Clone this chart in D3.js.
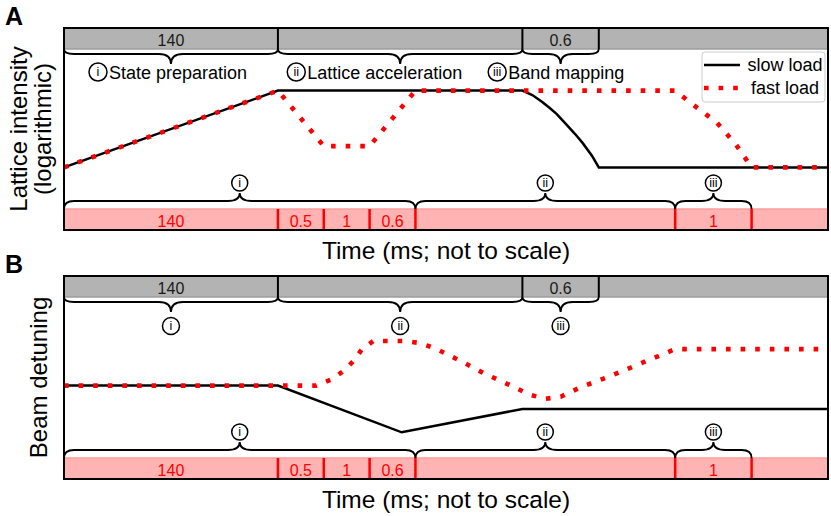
<!DOCTYPE html>
<html>
<head>
<meta charset="utf-8">
<script src="https://cdn.jsdelivr.net/npm/d3@7"></script>
<style>
body { margin: 0; background: #fff; }
svg { font-family: "Liberation Sans", Arial, sans-serif; }
</style>
</head>
<body>
<div id="chart"></div>
<script>
// time is in arbitrary units (not to scale), 0..100 across the axes
const grayEdges = [0, 28, 60, 70, 100];
const grayLabels = ["140", "", "0.6", ""];
const redEdges = [0, 28, 34, 40, 46, 80, 90, 100];
const redLabels = ["140", "0.5", "1", "0.6", "", "1", ""];
const topBraces = [[0, 28], [28, 60], [60, 70]];
const bottomBraces = [[0, 46], [46, 80], [80, 90]];
const numerals = ["i", "ii", "iii"];
const stageNames = ["State preparation", "Lattice acceleration", "Band mapping"];

// panel A - lattice intensity (log), arbitrary units 0..100
const slowAx = [0, 28, 60, 61.3, 62.6, 63.5, 64.5, 65.8, 66.9, 67.9, 69.1, 70, 100];
const slowAy = [31, 69, 69, 66.8, 63.4, 60.6, 57.4, 52, 47.5, 43, 36.8, 31, 31];
const fastAx = [0, 28, 34, 40, 46, 80, 82, 85.5, 88, 90, 100];
const fastAy = [31, 69, 41.5, 41.5, 69, 69, 63, 53, 42, 31, 31];

// panel B - beam detuning, arbitrary units 0..100
const slowBx = [0, 28, 44.2, 60, 100];
const slowBy = [46, 46, 23, 34.5, 34.5];
const fastBx = [0, 33, 35, 36.5, 38, 39, 40.5, 44.5, 46.5, 48.5, 52, 55, 58.5, 61, 63, 65, 67.5, 71, 76.5, 80, 100];
const fastBy = [46, 46, 49, 53, 58.5, 64, 68, 68, 67, 64.5, 58, 52, 46, 41.5, 39.5, 40.5, 45, 50, 58.5, 64, 64];

const seriesNames = ["slow load", "fast load"];

const width = 831, height = 516;
const stageLabelAt = [4.45, 30.4, 56.7];  // circle centres of the panel A stage labels

const svg = d3.select("#chart").append("svg")
  .attr("width", width)
  .attr("height", height);

const x = d3.scaleLinear().domain([0, 100]).range([64, 828]);

const zip = (a, b) => a.map((v, i) => [v, b[i]]);

function brace(x1, x2, y0, y1, y2) {
  const xm = (x1 + x2) / 2, r = 10, c = 12;
  return `M${x1},${y0} Q${x1},${y1} ${x1 + r},${y1} L${xm - c},${y1} Q${xm},${y1} ${xm},${y2}` +
         ` Q${xm},${y1} ${xm + c},${y1} L${x2 - r},${y1} Q${x2},${y1} ${x2},${y0}`;
}

function circledNumeral(g, cx, cy, r, t) {
  g.append("circle").attr("cx", cx).attr("cy", cy).attr("r", r)
    .attr("fill", "#fff").attr("stroke", "#000").attr("stroke-width", 1.5);
  g.append("text").attr("x", cx).attr("y", cy + 4.3).attr("text-anchor", "middle")
    .style("font-size", "12.5px").text(t);
}

function drawPanel(p) {
  const y = d3.scaleLinear().domain([0, 100]).range([p.bottom, p.top]);
  const g = svg.append("g");
  const grayH = 21, redH = 21;

  // bands
  g.append("rect").attr("x", x(0)).attr("y", p.top).attr("width", x(100) - x(0)).attr("height", grayH)
    .attr("fill", "#b3b3b3");
  g.append("line").attr("x1", x(0)).attr("x2", x(100)).attr("y1", p.top + grayH).attr("y2", p.top + grayH)
    .attr("stroke", "#9c9c9c").attr("stroke-width", 1.5);
  g.append("rect").attr("x", x(0)).attr("y", p.bottom - redH).attr("width", x(100) - x(0)).attr("height", redH)
    .attr("fill", "#ffb3b3");
  g.append("line").attr("x1", x(0)).attr("x2", x(100)).attr("y1", p.bottom - redH).attr("y2", p.bottom - redH)
    .attr("stroke", "#ff9c9c").attr("stroke-width", 1.5);

  grayLabels.forEach((t, i) => {
    if (!t) return;
    g.append("text").attr("x", x((grayEdges[i] + grayEdges[i + 1]) / 2)).attr("y", p.top + 18)
      .attr("text-anchor", "middle").attr("fill", "#1a1a1a").style("font-size", "16px").text(t);
  });
  redLabels.forEach((t, i) => {
    if (!t) return;
    g.append("text").attr("x", x((redEdges[i] + redEdges[i + 1]) / 2)).attr("y", p.bottom - 3)
      .attr("text-anchor", "middle").attr("fill", "red").style("font-size", "16px").text(t);
  });

  // dividers
  g.selectAll(".rdiv").data(redEdges.slice(1, -1)).join("line")
    .attr("x1", d => x(d)).attr("x2", d => x(d))
    .attr("y1", p.bottom - redH).attr("y2", p.bottom)
    .attr("stroke", "red").attr("stroke-width", 2.5);
  g.selectAll(".gdiv").data(grayEdges.slice(1, -1)).join("line")
    .attr("x1", d => x(d)).attr("x2", d => x(d))
    .attr("y1", p.top).attr("y2", p.top + grayH)
    .attr("stroke", "#000").attr("stroke-width", 2);

  // braces
  topBraces.forEach(([a, b]) => {
    g.append("path").attr("d", brace(x(a), x(b), p.top + grayH, p.top + 26, p.top + 36))
      .attr("fill", "none").attr("stroke", "#000").attr("stroke-width", 1.8);
  });
  bottomBraces.forEach(([a, b], i) => {
    g.append("path").attr("d", brace(x(a), x(b), p.bottom - redH, p.bottom - 29, p.bottom - 37))
      .attr("fill", "none").attr("stroke", "#000").attr("stroke-width", 1.8);
    circledNumeral(g, x((a + b) / 2), p.bottom - 47, 8, numerals[i]);
  });

  if (p.stageText) {
    stageNames.forEach((name, i) => {
      const cx = x(stageLabelAt[i]);
      circledNumeral(g, cx, p.top + 44, 9, numerals[i]);
      g.append("text").attr("x", cx + 11).attr("y", p.top + 51)
        .style("font-size", "18px").text(name);
    });
  } else {
    topBraces.forEach(([a, b], i) => {
      circledNumeral(g, x((a + b) / 2), p.top + 50, 8.5, numerals[i]);
    });
  }

  // curves
  const line = d3.line().x(d => x(d[0])).y(d => y(d[1]));
  g.append("path").datum(p.slow).attr("d", line)
    .attr("fill", "none").attr("stroke", "#000").attr("stroke-width", 2.5);
  g.append("path").datum(p.fast).attr("d", line)
    .attr("fill", "none").attr("stroke", "red").attr("stroke-width", 4.6)
    .attr("stroke-dasharray", "4.6,10");

  // frame
  g.append("rect").attr("x", x(0)).attr("y", p.top).attr("width", x(100) - x(0)).attr("height", p.bottom - p.top)
    .attr("fill", "none").attr("stroke", "#000").attr("stroke-width", 2);

  // axis labels
  g.append("text").attr("x", (x(0) + x(100)) / 2).attr("y", p.bottom + 29)
    .attr("text-anchor", "middle").style("font-size", "24.5px").text("Time (ms; not to scale)");
  p.ylabel.forEach((t, i) => {
    g.append("text").attr("transform", `translate(${p.ylabelX[i]},${(p.top + p.bottom) / 2}) rotate(-90)`)
      .attr("text-anchor", "middle").style("font-size", "24px").text(t);
  });
  g.append("text").attr("x", 5).attr("y", p.top - 3)
    .style("font-size", "25px").style("font-weight", "bold").text(p.tag);

  if (p.legend) {
    const lg = g.append("g").attr("transform", `translate(702,${p.top + 24})`);
    lg.append("rect").attr("width", 123).attr("height", 50).attr("rx", 3)
      .attr("fill", "#fff").attr("fill-opacity", 0.8).attr("stroke", "#cccccc").attr("stroke-width", 1);
    lg.append("line").attr("x1", 2).attr("x2", 38).attr("y1", 13).attr("y2", 13)
      .attr("stroke", "#000").attr("stroke-width", 2.5);
    lg.append("line").attr("x1", 2).attr("x2", 38).attr("y1", 36).attr("y2", 36)
      .attr("stroke", "red").attr("stroke-width", 4.6).attr("stroke-dasharray", "4.6,10");
    seriesNames.forEach((s, i) => {
      lg.append("text").attr("x", 83).attr("y", 19 + i * 23).attr("text-anchor", "middle")
        .style("font-size", "18px").text(s);
    });
  }
}

drawPanel({
  tag: "A", top: 28, bottom: 230,
  slow: zip(slowAx, slowAy), fast: zip(fastAx, fastAy),
  ylabel: ["Lattice intensity", "(logarithmic)"], ylabelX: [27, 51],
  stageText: true, legend: true
});
drawPanel({
  tag: "B", top: 276, bottom: 479,
  slow: zip(slowBx, slowBy), fast: zip(fastBx, fastBy),
  ylabel: ["Beam detuning"], ylabelX: [47],
  stageText: false, legend: false
});
</script>
</body>
</html>
